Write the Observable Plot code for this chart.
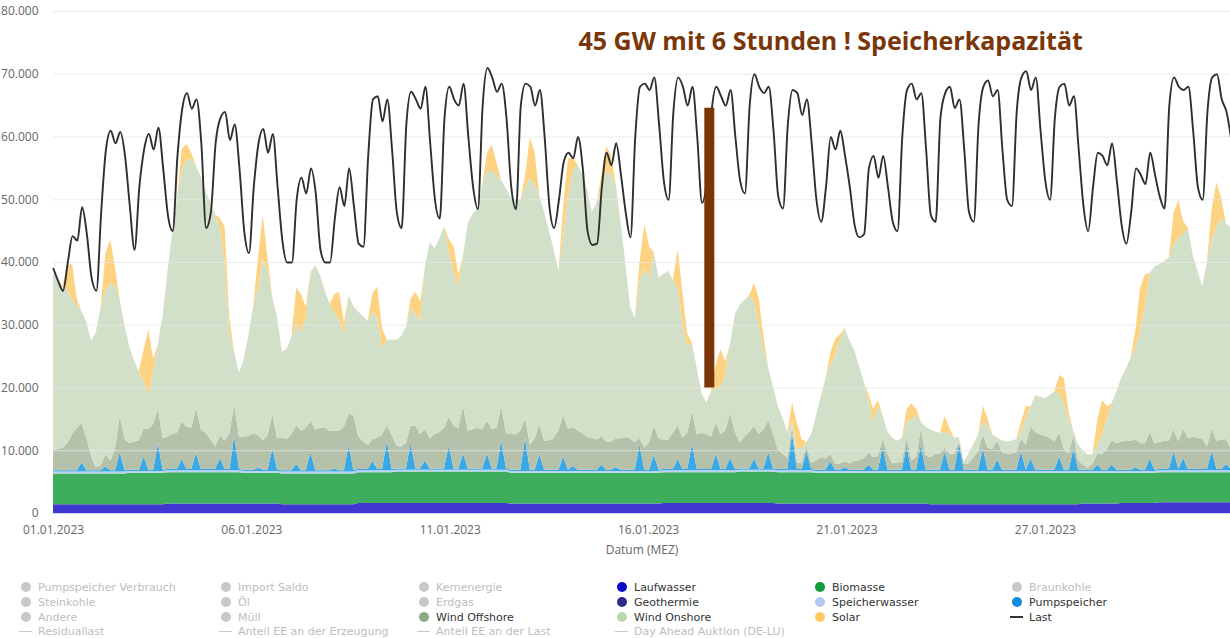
<!DOCTYPE html>
<html><head><meta charset="utf-8">
<script src="https://cdn.jsdelivr.net/npm/d3@7"></script>
<script src="https://cdn.jsdelivr.net/npm/@observablehq/plot@0.6"></script>
<style>
body{margin:0;background:#fff;font-family:"Open Sans",sans-serif;}
#wrap{position:relative;width:1230px;height:638px;overflow:hidden;background:#fff;}
#chart svg{display:block;}
#legend{position:absolute;left:0;top:565px;width:1230px;height:73px;}
.item{position:absolute;font-family:"DejaVu Sans",sans-serif;font-size:11px;line-height:13px;white-space:nowrap;}
.sym{position:absolute;}
</style></head><body><div id="wrap"><div id="chart"></div><div id="legend"></div></div>
<script>
// ---- data (GW), 3-hour steps from 01.01.2023 00:00, one line per day ----
const last = [
39,37,35.5,40,44.2,43.5,48.8,44.5,
37.5,35.5,48,58,61,59,60.8,57,
49,42,52,58,60.5,58,61.5,55,
47.5,45,57,64.5,67,64.5,66,59,
45.5,48,59,63,64,59.5,62,55,
45,41.5,52,59,61.3,57.5,60.5,52,
43.5,40,40,50,53.5,51,55,51,
42,40,40,47,52,49,55,49,
43,42.5,57,66,66.5,62.5,66,58,
48,45.5,62,67.2,66,64.5,68,59,
50,47,63,68,66,65,68.5,60,
52,48.5,65,71,69.5,67.2,68.5,63,
52,48.5,65,68.5,68,65,67.5,60,
49,45.5,50,56,57.5,56.6,60,55,
45,42.8,43,52,57.5,55.5,59,54,
48,44,60,68,68.5,67.5,69.5,62,
53,50,64,69.5,68,65,68,60,
49.5,53,64,68,66.5,65,67.5,60,
53,51,65,70,68,67,68,61,
50.5,48.6,62,67.5,67,63.5,66,59,
50,46.5,52,60,58,61,57,52,
46,44,44.5,55,57,53.5,57,52,
46.5,45,60,67.5,68.5,66,67,58,
47.5,46.5,63,67,68,64.6,66,58,
48,46.5,62,68,69,66.5,67.5,58,
50,49,64,69.5,70.5,67.5,69.5,61,
53,50,63,68,68.5,65,66.5,58,
49,45,52,57.5,57,55.5,59,53,
46,43,48,55,54,52.5,57.5,54,
50.5,48.6,65,69.5,68,67.5,68,61,
52,50,64,69.5,70,66,64,59.5];

const windOnshore = [
28.4,27.0,25.8,24.3,21.6,19.5,17.8,18.4,
18.3,21.6,25.3,26.1,28.3,25.9,18.4,18.1,
15.4,12.9,11.0,7.5,5.4,8.4,10.4,19.6,
26.4,32.0,37.3,40.0,42.5,42.8,38.5,40.3,
38.3,37.8,37.0,33.1,28.6,15.8,8.3,10.2,
12.4,16.2,20.3,23.5,28.8,26.1,18.5,19.3,
13.7,14.4,15.5,15.9,15.8,17.3,23.7,26.2,
24.3,21.8,20.3,18.8,17.8,14.6,18.9,17.3,
19.9,19.9,19.8,20.3,19.1,13.9,13.6,15.1,
16.9,17.6,18.6,18.8,17.8,18.1,25.8,31.3,
29.6,30.8,32.1,26.4,24.6,22.5,24.2,33.1,
34.3,34.9,38.9,39.7,41.3,40.3,35.9,39.1,
37.5,37.5,36.7,36.7,42.5,40.6,36.4,36.3,
33.4,30.1,25.3,28.4,37.1,40.9,42.3,41.3,
39.4,36.1,37.8,39.6,43.1,42.6,40.6,34.6,
27.9,21.1,19.7,25.1,28.6,26.2,27.5,25.6,
26.5,26.9,24.3,22.1,18.1,13.8,10.8,10.6,
6.3,5.1,7.2,5.4,7.5,8.9,11.1,18.7,
21.9,21.9,21.8,19.8,17.6,12.9,8.4,7.6,
7.0,5.6,4.1,0.8,2.4,2.3,0.5,4.6,
7.1,9.6,12.8,14.1,17.3,19.6,21.2,19.6,
17.7,15.1,12.3,8.3,5.7,7.9,3.6,3.6,
4.1,3.4,3.9,2.3,6.6,6.7,1.0,4.6,
4.4,3.6,3.3,2.6,3.1,2.5,0.6,0.3,
1.6,2.1,2.6,2.1,3.6,2.3,0.5,1.9,
1.9,2.0,2.1,1.2,4.2,3.3,5.9,6.0,
6.0,6.8,8.0,6.2,7.4,5.5,0.6,2.5,
2.3,2.1,1.6,1.3,3.1,4.9,5.9,8.3,
10.1,11.4,13.3,14.6,17.9,21.9,25.4,28.2,
28.4,28.6,29.2,29.5,32.5,31.0,33.6,28.9,
26.6,24.3,29.5,30.1,34.2,35.4,34.3,35.4];

const windOffshore = [
3.2,3.4,3.6,4.3,5.8,6.8,6.2,5.2,
2.3,0.5,0.8,2.0,1.5,3.5,5.8,5.0,
4.2,4.5,4.7,4.5,6.5,7.3,5.5,5.0,
5.2,5.6,5.8,6.0,6.8,6.6,7.2,6.3,
5.8,4.8,3.6,3.6,4.5,5.8,5.0,5.2,
5.2,5.4,5.8,5.2,4.7,5.5,5.5,5.0,
5.2,5.0,5.8,6.2,6.3,6.8,5.0,6.5,
6.8,6.8,6.3,6.0,6.3,7.0,5.0,8.8,
5.2,4.5,3.8,3.5,5.0,5.5,2.5,5.5,
3.6,3.5,4.0,2.8,6.8,5.5,5.0,4.8,
5.5,5.8,6.5,4.5,6.8,6.5,7.5,6.0,
6.3,6.5,6.2,5.2,6.3,6.5,5.5,5.6,
5.8,5.6,6.2,3.2,4.0,5.0,4.8,4.6,
4.7,5.0,6.3,6.6,6.5,6.2,6.3,5.8,
5.2,5.0,4.8,4.5,4.5,4.5,4.6,5.0,
5.2,5.0,4.4,1.0,3.5,4.4,4.7,5.0,
4.6,4.7,5.8,5.4,5.0,5.8,5.3,5.5,
5.8,5.5,5.2,5.0,5.6,6.2,7.2,6.0,
4.2,5.0,5.8,5.2,5.5,6.2,5.1,5.5,
3.1,2.5,1.8,1.2,1.0,1.0,0.9,1.0,
1.5,2.0,1.8,1.2,1.0,1.0,1.0,1.0,
1.4,1.5,1.8,2.0,2.0,2.2,1.3,2.5,
1.0,1.2,1.2,1.6,1.5,2.0,2.6,2.3,
2.0,2.5,2.6,0.6,2.5,2.6,0.4,1.0,
1.0,2.0,3.0,2.2,3.5,3.3,3.0,2.8,
2.6,2.6,2.8,2.0,4.0,5.0,6.0,5.6,
5.4,5.1,4.5,3.8,3.2,2.6,2.1,1.5,
0.8,0.3,1.0,1.8,2.5,3.2,3.9,4.2,
4.5,4.7,4.6,4.4,4.2,4.2,4.2,4.2,
4.3,4.5,4.5,3.5,4.4,4.7,4.9,5.2,
5.0,4.8,3.6,3.6,4.5,4.7,4.0,3.1];

const pumpspeicher = [
.2,.2,.2,.2,.2,.2,1.5,.2,
.2,.2,.2,.8,.2,.2,3.1,.2,
.2,.2,.2,2.3,.2,.2,4.4,.2,
.2,.2,.2,1.8,.2,.2,2.8,.2,
.2,.2,.2,2.0,.2,.2,5.5,.2,
.2,.2,.2,.5,.2,.2,3.6,.2,
.2,.2,.2,1.2,.2,.2,3.1,.2,
.2,.2,.2,.5,.2,.2,4.2,.2,
.2,.2,.2,1.5,.2,.2,4.7,.2,
.2,.2,.2,4.2,.2,.2,1.5,.2,
.2,.2,.2,3.9,.2,.2,2.6,.2,
.2,.2,.2,2.6,.2,.2,4.7,.2,
.2,.2,.2,5.2,.2,.2,2.6,.2,
.2,.2,.2,2.3,.2,.8,.2,.2,
.2,.2,.2,1.0,.2,.2,.6,.2,
.2,.2,.2,4.2,.2,.2,2.6,.2,
.2,.2,.2,1.8,.2,.2,4.2,.2,
.2,.2,.2,2.6,.2,.2,2.0,.2,
.2,.2,.2,1.8,.2,.2,2.8,.2,
.2,.2,.2,5.8,.2,.2,3.1,.2,
.2,.2,.2,1.5,.2,.2,.6,.2,
.2,.2,.2,1.0,.2,.2,3.9,.2,
.2,.2,.2,3.9,.2,.2,4.2,.2,
.2,.2,.2,3.1,.2,.2,4.4,.2,
.2,.2,.2,3.6,.2,.2,1.8,.2,
.2,.2,.2,3.1,.2,2.0,.2,.2,
.2,.2,.2,2.3,.2,.2,3.6,.2,
.2,.2,.2,1.0,.2,.2,1.0,.2,
.2,.2,.2,.6,.2,.2,2.0,.2,
.2,.2,.2,3.1,.2,2.0,.2,.2,
.2,.2,.2,3.1,.2,.2,1.0,.2];

const solar = [
0,0,0,4,5.5,1,0,0,
0,0,0,6,7,3,0,0,
0,0,0,5,10.5,2,0,0,
0,0,0,3.5,2.5,1,0,0,
0,0,0,1.5,5.5,2.5,0,0,
0,0,0,5,7,2,0,0,
0,0,0,6,6,2,0,0,
0,0,0,3,4.3,2,0,0,
0,0,0,3,5,3,0,0,
0,0,0,1.5,3.5,3,0,0,
0,0,0,2,4,2,0,0,
0,0,0,3,4,2,0,0,
0,0,0,2,6.5,5,0,0,
0,0,0,5,6,2,0,0,
0,0,0,2,4,3,0,0,
0,0,0,3,7,5,0,0,
0,0,0,6,5,2,0,0,
0,0,0,4,6,2,0,0,
0,0,0,3,4,2,0,0,
0,0,0,3,4,1.5,0,0,
0,0,0,2,2.5,1,0,0,
0,0,0,1,2,1,0,0,
0,0,0,2,2.5,1,0,0,
0,0,0,2.5,1,0,0,0,
0,0,0,2.5,1,0,0,0,
0,0,0,1.5,2,0,0,0,
0,0,0,3,4,1,0,0,
0,0,0,4,5.5,2,0,0,
0,0,0,3,7,5,0,0,
0,0,0,5,6,2,0,0,
0,0,0,5,7,3,0,0];

// daily readings of the flat base bands
const laufwasserDaily = [1.4,1.4,1.4,1.5,1.5,1.5,1.4,1.4,1.6,1.6,1.6,1.6,1.5,1.5,1.5,1.5,1.6,1.6,1.6,1.5,1.5,1.5,1.5,1.4,1.4,1.4,1.4,1.5,1.6,1.7,1.7];
const biomasseDaily = [4.9,4.9,5.0,5.0,5.0,4.9,4.9,4.9,4.9,5.0,5.0,5.0,4.9,4.9,4.9,4.9,4.9,4.9,5.0,5.0,4.9,4.9,4.9,5.0,5.0,5.0,5.0,4.9,4.8,4.8,4.8];
const speicherwasserDaily = [0.3,0.3,0.3,0.3,0.3,0.3,0.3,0.3,0.3,0.3,0.3,0.3,0.3,0.3,0.3,0.3,0.3,0.3,0.3,0.3,0.3,0.3,0.3,0.3,0.3,0.3,0.3,0.3,0.3,0.3,0.3];

const stackOrder = ["Laufwasser","Biomasse","Speicherwasser","Pumpspeicher","Wind Offshore","Wind Onshore","Solar"];
const stackColors = ["#4038d0","#3fae5c","#bcd3f4","#39a8e6","#b5c1aa","#d3e0c9","#fdd382"];

const yTicks = [0,10,20,30,40,50,60,70,80];
const xTickHours = [0,124.8,249.6,374.4,499.2,624];
const xTickLabels = ["01.01.2023","06.01.2023","11.01.2023","16.01.2023","21.01.2023","27.01.2023"];
const xEndHour = 740.5;

const annotation = [{hour: 330.3, value: 75.1, label: "45 GW mit 6 Stunden ! Speicherkapazität"}];
const storageBar = [{hour: 412.6, from: 20, to: 64.6}];

const legendItems = [
 {name:"Pumpspeicher Verbrauch", kind:"dot", color:"#c8c8c8", on:false},
 {name:"Import Saldo", kind:"dot", color:"#c8c8c8", on:false},
 {name:"Kernenergie", kind:"dot", color:"#c8c8c8", on:false},
 {name:"Laufwasser", kind:"dot", color:"#0a0ac8", on:true},
 {name:"Biomasse", kind:"dot", color:"#0f9a3c", on:true},
 {name:"Braunkohle", kind:"dot", color:"#c8c8c8", on:false},
 {name:"Steinkohle", kind:"dot", color:"#c8c8c8", on:false},
 {name:"Öl", kind:"dot", color:"#c8c8c8", on:false},
 {name:"Erdgas", kind:"dot", color:"#c8c8c8", on:false},
 {name:"Geothermie", kind:"dot", color:"#2b2b8c", on:true},
 {name:"Speicherwasser", kind:"dot", color:"#b4c8f5", on:true},
 {name:"Pumpspeicher", kind:"dot", color:"#108de0", on:true},
 {name:"Andere", kind:"dot", color:"#c8c8c8", on:false},
 {name:"Müll", kind:"dot", color:"#c8c8c8", on:false},
 {name:"Wind Offshore", kind:"dot", color:"#8cab82", on:true},
 {name:"Wind Onshore", kind:"dot", color:"#bcd6b0", on:true},
 {name:"Solar", kind:"dot", color:"#ffca60", on:true},
 {name:"Last", kind:"line", color:"#333", on:true},
 {name:"Residuallast", kind:"line", color:"#c8c8c8", on:false},
 {name:"Anteil EE an der Erzeugung", kind:"line", color:"#c8c8c8", on:false},
 {name:"Anteil EE an der Last", kind:"line", color:"#c8c8c8", on:false},
 {name:"Day Ahead Auktion (DE-LU)", kind:"line", color:"#c8c8c8", on:false}
];

// ---- build tables ----
const start = Date.UTC(2023, 0, 1);
const toDate = h => new Date(start + h * 3600e3);
const stepH = 3;
const rows = [];
const lastRows = [];
last.forEach((v, k) => {
  const t = toDate(k * stepH), d = Math.floor(k / 8);
  const vals = [laufwasserDaily[d], biomasseDaily[d], speicherwasserDaily[d], pumpspeicher[k], windOffshore[k], windOnshore[k], solar[k]];
  stackOrder.forEach((s, i) => rows.push({t, source: s, value: vals[i]}));
  lastRows.push({t, value: v});
});
const xTicks = xTickHours.map(toDate);
const labelMap = new Map(xTicks.map((d, i) => [+d, xTickLabels[i]]));
const de = d3.formatLocale({decimal: ",", thousands: ".", grouping: [3], currency: ["", "€"]}).format(",");
const annoRows = annotation.map(a => ({t: toDate(a.hour), value: a.value, label: a.label}));
const barRows = storageBar.map(b => ({t: toDate(b.hour), from: b.from, to: b.to}));

const chart = Plot.plot({
  width: 1230, height: 565,
  marginLeft: 53, marginRight: 0, marginTop: 11, marginBottom: 52,
  style: {fontFamily: "'Open Sans', sans-serif", fontSize: "12px", background: "#fff", overflow: "visible"},
  x: {type: "utc", domain: [toDate(0), toDate(xEndHour)]},
  y: {domain: [0, 80]},
  color: {domain: stackOrder, range: stackColors},
  marks: [
    Plot.areaY(rows, {x: "t", y: "value", fill: "source", order: stackOrder, curve: "linear"}),
    Plot.ruleY(yTicks.filter(v => v > 0), {stroke: "#e6e6e6", strokeWidth: 1, strokeOpacity: 0.8}),
    Plot.ruleY([0], {stroke: "#ccd6eb"}),
    Plot.line(lastRows, {x: "t", y: "value", stroke: "#2e2e2e", strokeWidth: 1.9, curve: "monotone-x"}),
    Plot.ruleX(barRows, {x: "t", y1: "from", y2: "to", stroke: "#7a3608", strokeWidth: 10}),
    Plot.text(annoRows, {x: "t", y: "value", text: "label", textAnchor: "start", lineAnchor: "middle", fill: "#7a3608", fontSize: 25, fontWeight: "bold", fontFamily: "'Open Sans', sans-serif"}),
    Plot.axisY({ticks: yTicks, tickSize: 0, tickPadding: 15, tickFormat: v => de(v * 1000), label: null, color: "#666"}),
    Plot.axisX({ticks: xTicks, tickSize: 0, tickPadding: 12, tickFormat: d => labelMap.get(+d), label: null, color: "#666"}),
    Plot.text(["Datum (MEZ)"], {text: d => d, frameAnchor: "bottom", dy: 37, lineAnchor: "middle", fill: "#666"})
  ]
});
document.getElementById("chart").appendChild(chart);

// ---- legend (HTML below the SVG) ----
const colX = [26, 226, 424, 622, 820, 1017];
const rowY = [22, 37, 52, 66.5];
const legend = document.getElementById("legend");
legendItems.forEach((it, i) => {
  const cx = colX[i % 6], cy = rowY[Math.floor(i / 6)];
  const sym = document.createElement("div");
  sym.className = "sym";
  if (it.kind === "dot") {
    Object.assign(sym.style, {left: (cx - 5) + "px", top: (cy - 5) + "px", width: "10px", height: "10px", borderRadius: "50%", background: it.color});
  } else {
    Object.assign(sym.style, {left: (cx - 7) + "px", top: (cy - 1) + "px", width: "13px", height: "1.5px", background: it.color});
  }
  legend.appendChild(sym);
  const tx = document.createElement("div");
  tx.className = "item";
  tx.textContent = it.name;
  Object.assign(tx.style, {left: (cx + 12) + "px", top: (cy - 6.5) + "px", color: it.on ? "#333" : "#bdbdbd"});
  legend.appendChild(tx);
});
</script></body></html>
